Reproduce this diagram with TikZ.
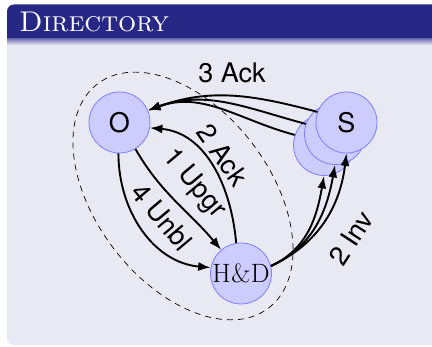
\documentclass[tikz,border=0pt]{standalone}
\usepackage{fontspec}
\newfontfamily\heros{TeX Gyre Heros}
\usetikzlibrary{arrows.meta,shapes.geometric}
\definecolor{titlebg}{RGB}{39,40,133}
\definecolor{bodybg}{RGB}{233,233,243}
\definecolor{shadowc}{RGB}{120,120,180}
\definecolor{nodefill}{RGB}{204,204,255}
\definecolor{nodedraw}{RGB}{128,128,255}
\tikzset{
  agent/.style={circle, fill=nodefill, draw=nodedraw, line width=0.8pt, minimum size=61pt, inner sep=0pt, font=\heros\fontsize{27}{30}\selectfont},
  edge/.style={line width=1.9pt, -{Latex[length=12.5pt,width=9pt]}},
  lbl/.style={font=\heros\fontsize{27}{30}\selectfont, inner sep=0pt},
  region/.style={dashed, line width=0.7pt, dash pattern=on 6pt off 5pt}
}
\begin{document}
\begin{tikzpicture}[x=1pt,y=1pt]
\useasboundingbox (0,0) rectangle (432,347);
\clip (0,0) rectangle (432,347);
% block
\fill[titlebg, rounded corners=7pt] (7,300) rectangle (460,342.5);
\fill[bodybg] (7,308) {[rounded corners=7pt] -- (7,2) -- (460,2)} -- (460,308) -- cycle;
\shade[top color=shadowc, bottom color=bodybg] (7,302) rectangle (460,308);
\node[anchor=base west, text=white, inner sep=0pt] (title) at (19,315.5) {\fontsize{28.5}{32}\selectfont\textsc{Directory}};
% dashed region
\draw[region] (183,151) ellipse[x radius=141, y radius=87, rotate=-52.6];
% nodes
\node[agent] (O) at (119.5,224.5) {O};
\node[agent] (S1) at (324,202) {};
\node[agent] (S2) at (335,213) {};
\node[agent] (S3) at (346.5,224.5) {S};
\node[agent, font=\fontsize{26.5}{30}\selectfont] (HD) at (241,73.5) {H\kern0.5pt\&\kern0.5pt D};
% 3 Ack
\draw[edge] (S3.160) to[out=165,in=20] (O.23);
\draw[edge] (S2.161) to[out=165,in=20] (O.23);
\draw[edge] (S1.161) to[out=165,in=20] (O.23);
\node[lbl] (l3) at (232,274) {3 Ack};
% 2 Ack
\draw[edge] (HD.99) to[out=95,in=-5] (O.-10);
\node[lbl, rotate=-55] (l2a) at (223,192) {2 Ack};
% 1 Upgr
\draw[edge] (O.-59) to[out=-60,in=130] (HD.130);
\node[lbl, rotate=-50] (l1) at (194,163) {1 Upgr};
% 4 Unbl
\draw[edge] (O.-92) to[out=-90,in=175] (HD.169);
\node[lbl, rotate=-50] (l4) at (162,130) {4 Unbl};
% 2 Inv
\draw[edge] (HD.14) to[out=25,in=-100] (S1.-90);
\draw[edge] (HD.14) to[out=25,in=-100] (S2.-90);
\draw[edge] (HD.14) to[out=25,in=-97] (S3.-90);
\node[lbl, rotate=57] (l2i) at (351,109) {2 Inv};
\end{tikzpicture}
\end{document}
